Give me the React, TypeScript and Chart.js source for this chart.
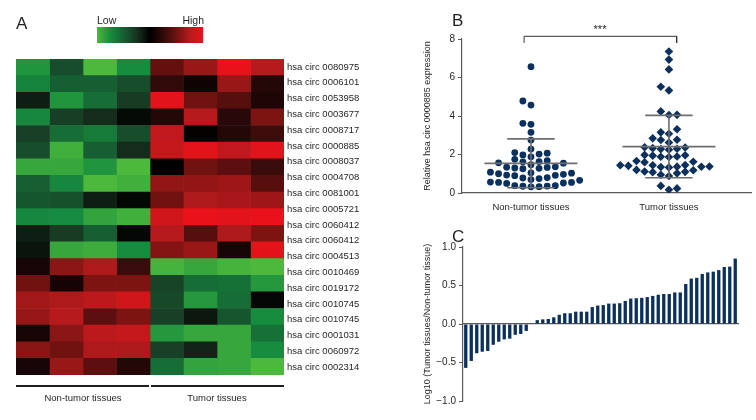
import React, { useEffect, useRef } from "react";
import { Chart, registerables } from "chart.js";
Chart.register(...registerables);

const FONT = "'Liberation Sans', Arial, sans-serif";
const TEXT = "#231f20";
const AXIS = "#5a5a5a";
const NAVY = "#0c305e";

// ---------- Panel A: heatmap ----------
const circLabels = [
  "hsa circ 0080975", "hsa circ 0006101", "hsa circ 0053958", "hsa circ 0003677",
  "hsa circ 0008717", "hsa circ 0000885", "hsa circ 0008037", "hsa circ 0004708",
  "hsa circ 0081001", "hsa circ 0005721", "hsa circ 0060412", "hsa circ 0060412",
  "hsa circ 0004513", "hsa circ 0010469", "hsa circ 0019172", "hsa circ 0010745",
  "hsa circ 0010745", "hsa circ 0001031", "hsa circ 0060972", "hsa circ 0002314",
];
const sampleColumns = ["N1", "N2", "N3", "N4", "T1", "T2", "T3", "T4"];
const heatRowIds = Array.from({ length: 19 }, (_, i) => "row" + (i + 1));
const heatValues: number[][] = [
  [-0.8, -0.4, -1, -0.75, 0.45, 0.65, 1.0, 0.75],
  [-0.7, -0.5, -0.5, -0.4, 0.25, 0.08, 0.65, 0.18],
  [-0.15, -0.8, -0.58, -0.3, 0.95, 0.5, 0.4, 0.15],
  [-0.72, -0.32, -0.22, -0.05, 0.18, 0.75, 0.2, 0.55],
  [-0.33, -0.58, -0.65, -0.4, 0.8, 0.02, 0.18, 0.3],
  [-0.4, -0.95, -0.5, -0.22, 0.82, 0.95, 0.8, 0.95],
  [-0.9, -0.9, -0.8, -1, 0, 0.5, 0.42, 0.28],
  [-0.5, -0.72, -1, -0.95, 0.62, 0.62, 0.66, 0.4],
  [-0.45, -0.42, -0.15, -0.04, 0.5, 0.72, 0.7, 0.66],
  [-0.72, -0.74, -0.88, -0.95, 0.88, 1.0, 0.96, 1.0],
  [-0.15, -0.3, -0.5, -0.03, 0.75, 0.4, 0.72, 0.55],
  [-0.1, -0.9, -0.93, -0.75, 0.57, 0.65, 0.12, 0.97],
  [0.12, 0.6, 0.72, 0.28, -0.97, -0.9, -0.97, -1],
  [0.5, 0.1, 0.55, 0.55, -0.35, -0.58, -0.6, -0.82],
  [0.68, 0.72, 0.78, 0.88, -0.38, -0.82, -0.58, -0.03],
  [0.64, 0.75, 0.42, 0.55, -0.33, -0.12, -0.45, -0.75],
  [0.12, 0.6, 0.78, 0.82, -0.82, -0.9, -0.9, -0.6],
  [0.58, 0.5, 0.72, 0.72, -0.33, -0.18, -0.9, -0.75],
  [0.12, 0.65, 0.42, 0.18, -0.58, -0.88, -0.9, -1],
];
const groupLabels = ["Non-tumor tissues", "Tumor tissues"];

// ---------- Panel B: expression ----------
const nonTumorExpr = [
  6.56, 4.78, 4.57, 3.62, 3.57, 3.15, 2.75, 2.28,
  2.1, 2.07, 2.02, 1.98, 1.88,
  1.75, 1.68, 1.63, 1.62, 1.57, 1.55, 1.47,
  1.36, 1.33, 1.3, 1.28, 1.26, 1.34,
  1.08, 1.05, 1.03, 0.97, 0.93, 0.92, 0.9, 1.0,
  0.8, 0.78, 0.75, 0.7, 0.66,
  0.57, 0.55, 0.52, 0.5, 0.55,
  0.38, 0.36, 0.35, 0.33, 0.32, 0.38,
];
const tumorExpr = [
  7.35, 6.93, 6.42, 5.52, 5.33, 4.24, 4.06, 4.05,
  3.31, 3.15, 3.08,
  2.84, 2.77, 2.75, 2.62,
  2.38, 2.36, 2.33, 2.3, 2.28, 2.25,
  1.98, 1.96, 1.94, 1.9, 1.88, 1.87,
  1.66, 1.62, 1.6,
  1.45, 1.44, 1.41, 1.38, 1.37, 1.36, 1.35, 1.33, 1.44,
  1.2, 1.18, 1.12, 1.1, 1.08,
  1.02, 0.95, 0.88,
  0.37, 0.24, 0.17,
];
const groupMeans = [1.54, 2.41];
const groupSD = [1.27, 1.62];
const yTicksB = [0, 2, 4, 6, 8];

// ---------- Panel C: log ratio ----------
const log10Ratio = [
  -0.57, -0.48, -0.38, -0.36, -0.35, -0.27, -0.23, -0.2, -0.19, -0.14, -0.13, -0.09,
  0,
  0.05, 0.06, 0.065, 0.087, 0.12, 0.14, 0.14, 0.16, 0.16, 0.16,
  0.22, 0.24, 0.245, 0.265, 0.265, 0.27,
  0.3, 0.33, 0.335, 0.34, 0.35, 0.365, 0.38, 0.39, 0.39, 0.41, 0.41,
  0.52, 0.59, 0.6, 0.65, 0.67, 0.68, 0.7, 0.74, 0.745, 0.85,
];
const yTicksC = [-1, -0.5, 0, 0.5, 1];

// ---------- helpers ----------
const POS_STOPS = [[0, 0, 0], [50, 10, 10], [112, 18, 16], [182, 26, 28], [234, 18, 26]];
const NEG_STOPS = [[0, 0, 0], [24, 50, 32], [22, 95, 50], [22, 140, 62], [76, 184, 60]];
function heatColor(v: number): string {
  const stops = v >= 0 ? POS_STOPS : NEG_STOPS;
  const t = Math.min(1, Math.abs(v)) * 4;
  const i = Math.min(3, Math.floor(t));
  const f = t - i;
  const a = stops[i], b = stops[i + 1];
  const c = a.map((x, k) => Math.round(x + (b[k] - x) * f));
  return `rgb(${c[0]},${c[1]},${c[2]})`;
}
function gradientCss(): string {
  const parts: string[] = [];
  for (let k = 0; k <= 8; k++) {
    const v = -1 + k * 0.25;
    parts.push(`${heatColor(v)} ${(k / 8) * 100}%`);
  }
  return `linear-gradient(to right, ${parts.join(", ")})`;
}

// beeswarm layout in pixel space, returns x offsets in data units
function swarm(values: number[], pxPerX: number, pxPerY: number, step: number, minDist: number): number[] {
  const order = values.map((_, i) => i).sort((a, b) => values[a] - values[b]);
  const placed: { x: number; y: number }[] = [];
  const out = new Array(values.length).fill(0);
  order.forEach((i, k) => {
    const y = values[i] * pxPerY;
    for (let s = 0; s < 30; s++) {
      const cands = s === 0 ? [0] : k % 2 ? [s, -s] : [-s, s];
      for (const c of cands) {
        const x = c * step;
        if (placed.every((p) => Math.hypot(p.x - x, p.y - y) >= minDist)) {
          placed.push({ x, y });
          out[i] = x / pxPerX;
          return;
        }
      }
    }
  });
  return out;
}

const font = (size: number) => ({ family: FONT, size });

export default function App() {
  const refA = useRef<HTMLCanvasElement>(null);
  const refB = useRef<HTMLCanvasElement>(null);
  const refC = useRef<HTMLCanvasElement>(null);

  useEffect(() => {
    const charts: Chart[] = [];

    // Heatmap
    charts.push(
      new Chart(refA.current!, {
        type: "bar",
        data: {
          labels: heatRowIds,
          datasets: sampleColumns.map((col, c) => ({
            label: col,
            data: heatValues.map(() => 1),
            backgroundColor: heatValues.map((row) => heatColor(row[c])),
            borderWidth: 0,
            barPercentage: 1,
            categoryPercentage: 1,
          })),
        },
        options: {
          indexAxis: "y",
          animation: false,
          responsive: false,
          events: [],
          plugins: { legend: { display: false }, tooltip: { enabled: false } },
          layout: { padding: { left: 16, top: 59, bottom: 45, right: 0 } },
          scales: {
            x: { stacked: true, min: 0, max: 8, display: false },
            y: { stacked: true, display: false, offset: true },
            yLab: {
              type: "category",
              labels: circLabels,
              position: "right",
              offset: true,
              grid: { display: false, drawTicks: false },
              border: { display: false },
              ticks: { font: font(9.5), color: TEXT, padding: 3, autoSkip: false },
              afterFit: (s: any) => {
                s.width = 96;
              },
            },
          },
        } as any,
      })
    );

    // Scatter dot plot
    const pxPerX = 293 / 2.1;
    const pxPerY = 154 / 8;
    const offN = swarm(nonTumorExpr, pxPerX, pxPerY, 8.2, 6.6);
    const offT = swarm(tumorExpr, pxPerX, pxPerY, 8.2, 6.6);
    const lineDs = (pts: { x: number; y: number }[]) => ({
      data: pts,
      showLine: true,
      borderColor: "#6e6e6e",
      borderWidth: 1.6,
      pointRadius: 0,
      tension: 0,
    });
    const summaryLines: any[] = [];
    groupMeans.forEach((m, g) => {
      const cx = g + 0.5;
      const sd = groupSD[g];
      summaryLines.push(lineDs([{ x: cx - 0.337, y: m }, { x: cx + 0.337, y: m }]));
      summaryLines.push(lineDs([{ x: cx - 0.172, y: m + sd }, { x: cx + 0.172, y: m + sd }]));
      summaryLines.push(lineDs([{ x: cx - 0.172, y: m - sd }, { x: cx + 0.172, y: m - sd }]));
      summaryLines.push(lineDs([{ x: cx, y: m - sd }, { x: cx, y: m + sd }]));
    });
    charts.push(
      new Chart(refB.current!, {
        type: "scatter",
        data: {
          datasets: [
            ...summaryLines,
            {
              data: [
                { x: 0.45, y: 7.8 },
                { x: 0.45, y: 8.14 },
                { x: 1.556, y: 8.14 },
                { x: 1.556, y: 7.8 },
              ],
              showLine: true,
              borderColor: "#333",
              borderWidth: 1,
              pointRadius: 0,
              clip: false,
            },
            {
              data: nonTumorExpr.map((v, i) => ({ x: 0.5 + offN[i], y: v })),
              pointStyle: "circle",
              pointRadius: 3.4,
              backgroundColor: NAVY,
              borderWidth: 0,
            },
            {
              data: tumorExpr.map((v, i) => ({ x: 1.5 + offT[i], y: v })),
              pointStyle: "rectRot",
              pointRadius: 4.3,
              backgroundColor: NAVY,
              borderWidth: 0,
            },
          ],
        },
        options: {
          animation: false,
          responsive: false,
          events: [],
          plugins: { legend: { display: false }, tooltip: { enabled: false } },
          layout: { padding: { left: 0, top: 39, bottom: 0, right: 1 } },
          scales: {
            x: {
              type: "linear",
              min: 0,
              max: 2.1,
              afterBuildTicks: (s: any) => {
                s.ticks = groupLabels.map((_, i) => ({ value: i + 0.5 }));
              },
              ticks: {
                font: font(9.5),
                color: TEXT,
                padding: 9,
                autoSkip: false,
                maxRotation: 0,
                callback: (_v: any, i: number) => groupLabels[i],
              },
              grid: { display: false, drawTicks: false },
              border: { color: AXIS, width: 1.2 },
              afterFit: (s: any) => {
                s.height = 32;
              },
            },
            y: {
              min: 0,
              max: 8,
              afterBuildTicks: (s: any) => {
                s.ticks = yTicksB.map((v) => ({ value: v }));
              },
              ticks: { font: font(10), color: TEXT, padding: 3 },
              grid: { drawOnChartArea: false, tickLength: 4, color: AXIS },
              border: { color: AXIS, width: 1.2 },
              title: {
                display: true,
                text: "Relative hsa circ 0000885 expression",
                font: font(9),
                color: TEXT,
                padding: { top: 22, bottom: 0 },
              },
              afterFit: (s: any) => {
                s.width = 62;
              },
            },
          },
        } as any,
      })
    );

    // Bar chart
    charts.push(
      new Chart(refC.current!, {
        type: "bar",
        data: {
          labels: log10Ratio.map((_, i) => String(i + 1)),
          datasets: [
            {
              data: log10Ratio,
              backgroundColor: NAVY,
              borderWidth: 0,
              barPercentage: 0.6,
              categoryPercentage: 1,
            },
          ],
        },
        options: {
          animation: false,
          responsive: false,
          events: [],
          plugins: { legend: { display: false }, tooltip: { enabled: false } },
          layout: { padding: { left: 0, top: 22, bottom: 19, right: 18 } },
          scales: {
            x: {
              position: { y: 0 },
              offset: true,
              grid: { display: false, drawTicks: false },
              ticks: { display: false },
              border: { color: AXIS, width: 1.2 },
              afterFit: (s: any) => {
                s.height = 0;
              },
            },
            y: {
              min: -1,
              max: 1,
              afterBuildTicks: (s: any) => {
                s.ticks = yTicksC.map((v) => ({ value: v }));
              },
              ticks: {
                font: font(10),
                color: TEXT,
                padding: 3,
                callback: (v: any) => (v < 0 ? "\u2212" : "") + Math.abs(v).toFixed(1),
              },
              grid: { drawOnChartArea: false, tickLength: 4, color: AXIS },
              border: { color: AXIS, width: 1.2 },
              title: {
                display: true,
                text: "Log10 (Tumor tissues/Non-tumor tissue)",
                font: font(9),
                color: TEXT,
                padding: { top: 22, bottom: 0 },
              },
              afterFit: (s: any) => {
                s.width = 63;
              },
            },
          },
        } as any,
      })
    );

    return () => charts.forEach((c) => c.destroy());
  }, []);

  const txt: React.CSSProperties = { position: "absolute", fontFamily: FONT, color: TEXT, whiteSpace: "nowrap", lineHeight: 1 };

  return (
    <div style={{ position: "absolute", left: 0, top: 0, width: 756, height: 420, background: "#fff", overflow: "hidden" }}>
      <canvas ref={refA} width={380} height={420} style={{ position: "absolute", left: 0, top: 0, width: 380, height: 420 }} />
      <canvas ref={refB} width={356} height={225} style={{ position: "absolute", left: 400, top: 0, width: 356, height: 225 }} />
      <canvas ref={refC} width={356} height={195} style={{ position: "absolute", left: 400, top: 225, width: 356, height: 195 }} />

      <div style={{ ...txt, left: 16, top: 15, fontSize: 17 }}>A</div>
      <div style={{ ...txt, left: 452, top: 12, fontSize: 17 }}>B</div>
      <div style={{ ...txt, left: 452, top: 228, fontSize: 17 }}>C</div>

      <div style={{ ...txt, left: 97, top: 15, fontSize: 10.5 }}>Low</div>
      <div style={{ ...txt, left: 174, top: 15, fontSize: 10.5, width: 30, textAlign: "right" }}>High</div>
      <div style={{ position: "absolute", left: 97, top: 27, width: 106, height: 16, background: gradientCss() }} />

      <div style={{ position: "absolute", left: 16, top: 385, width: 133, height: 1.5, background: "#231f20" }} />
      <div style={{ position: "absolute", left: 151, top: 385, width: 133, height: 1.5, background: "#231f20" }} />
      <div style={{ ...txt, left: 23, width: 120, top: 393, fontSize: 9.5, textAlign: "center" }}>Non-tumor tissues</div>
      <div style={{ ...txt, left: 157, width: 120, top: 393, fontSize: 9.5, textAlign: "center" }}>Tumor tissues</div>

      <div style={{ ...txt, left: 580, width: 40, top: 24, fontSize: 11, textAlign: "center" }}>***</div>
    </div>
  );
}
